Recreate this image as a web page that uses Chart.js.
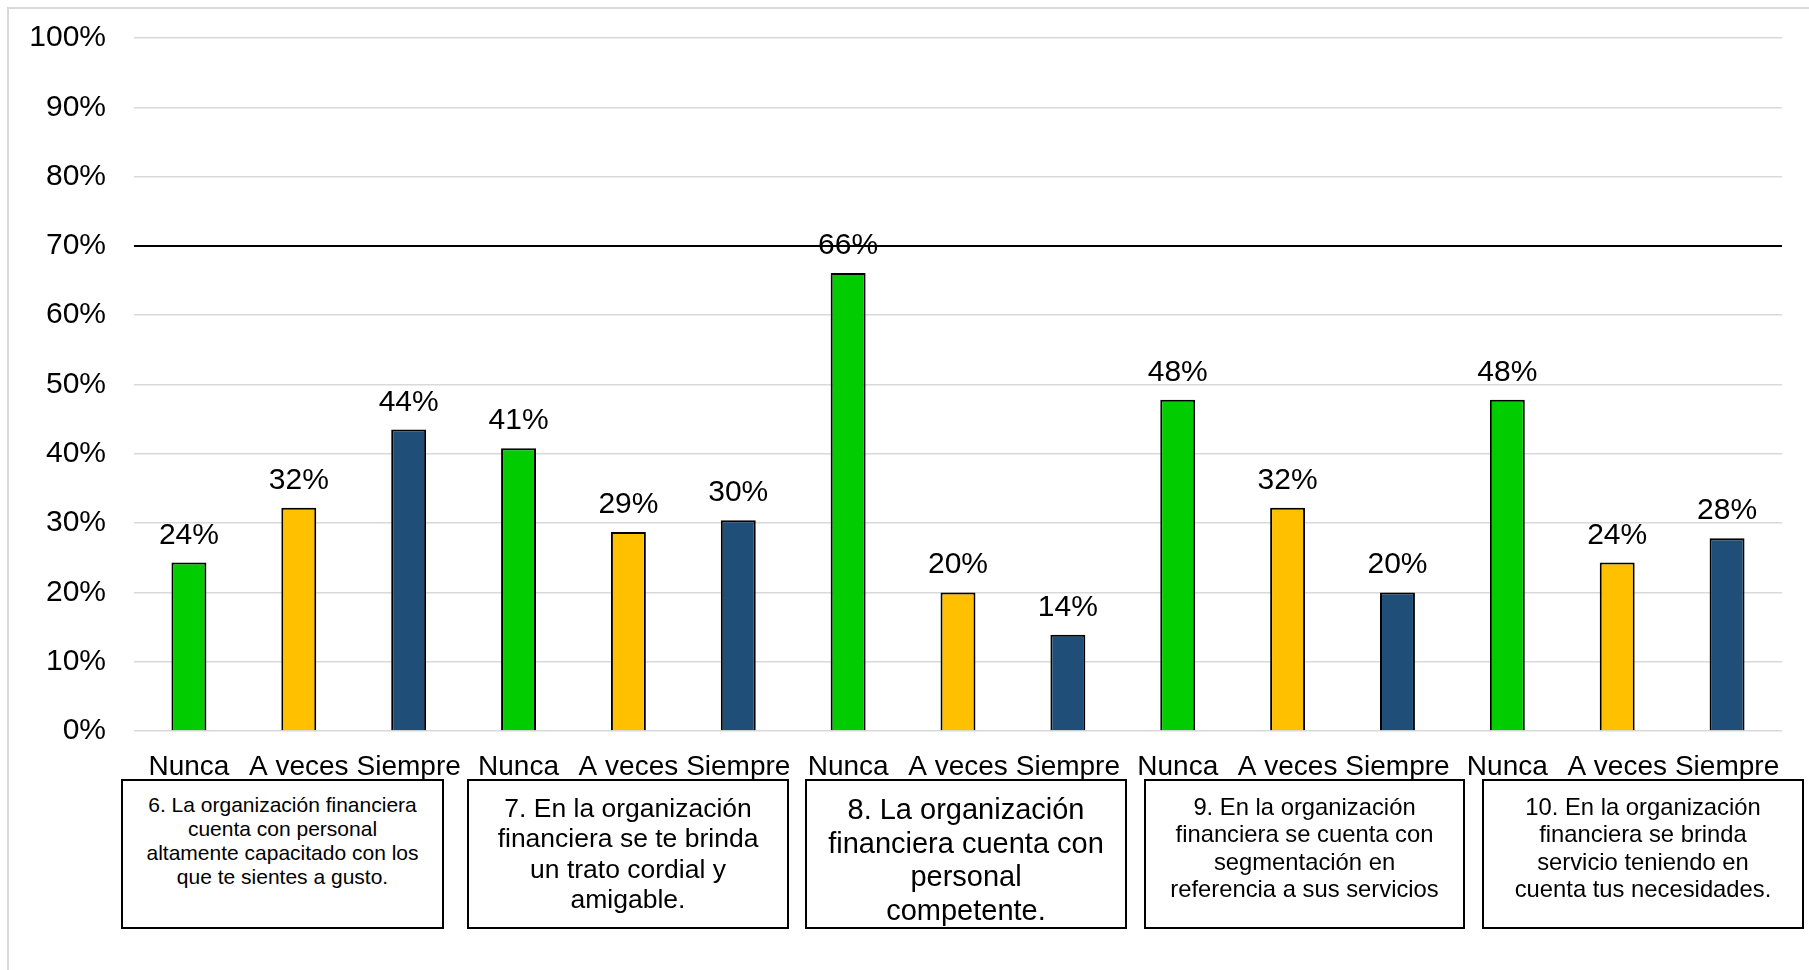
<!DOCTYPE html>
<html>
<head>
<meta charset="utf-8">
<script src="https://cdn.jsdelivr.net/npm/chart.js@4.4.1/dist/chart.umd.min.js"></script>
<style>
  body { margin:0; background:#fff; font-family:'Liberation Sans', Arial, sans-serif; }
  #wrap { position:relative; width:1809px; height:970px; overflow:hidden; }
  #frame { position:absolute; left:7px; top:7px; width:1900px; height:1000px; border-left:2px solid #d9d9d9; border-top:2px solid #d9d9d9; }
  canvas { position:absolute; left:0; top:0; }
  .q { position:absolute; top:779px; height:150px; box-sizing:border-box; border:2px solid #000; background:#fff;
       text-align:center; color:#000; padding-top:12px; }
</style>
</head>
<body>
<div id="wrap">
  <div id="frame"></div>
  <canvas id="chart" width="1809" height="970"></canvas>
</div>
<script>
const answers  = ['Nunca','A veces','Siempre'];
const groups   = ['6','7','8','9','10'];
const values   = [24.3, 32.2, 43.5, 40.8, 28.7, 30.4, 66.1, 20.0, 13.9, 47.8, 32.2, 20.0, 47.8, 24.3, 27.8];
const colors   = ['#00CC00', '#FFC000', '#1F4E79'];
const refLine  = 70;
const questions = [
  '6. La organización financiera<br>cuenta con personal<br>altamente capacitado con los<br>que te sientes a gusto.',
  '7. En la organización<br>financiera se te brinda<br>un trato cordial y<br>amigable.',
  '8. La organización<br>financiera cuenta con<br>personal<br>competente.',
  '9. En la organización<br>financiera se cuenta con<br>segmentación en<br>referencia a sus servicios',
  '10. En la organización<br>financiera se brinda<br>servicio teniendo en<br>cuenta tus necesidades.'
];
// box placement and text size per question
const boxLeft  = [121, 467, 805, 1144, 1482];
const boxWidth = [323, 322, 322, 321, 322];
const boxFont  = [21, 26.5, 29, 23.8, 23.8];
const boxLine  = [24, 30.4, 33.5, 27.3, 27.3];

const labels = groups.flatMap(() => answers);
const FONT = "'Liberation Sans', Arial, sans-serif";

const overlay = {
  id: 'overlay',
  afterDatasetsDraw(chart) {
    const { ctx, chartArea, scales } = chart;
    // black reference line at 70%
    const y = scales.y.getPixelForValue(refLine);
    ctx.save();
    ctx.strokeStyle = '#000';
    ctx.lineWidth = 2;
    ctx.beginPath();
    ctx.moveTo(chartArea.left, y);
    ctx.lineTo(chartArea.right, y);
    ctx.stroke();
    // value labels
    ctx.fillStyle = '#000';
    ctx.font = '30px ' + FONT;
    ctx.textAlign = 'center';
    ctx.textBaseline = 'alphabetic';
    chart.getDatasetMeta(0).data.forEach((bar, i) => {
      ctx.fillText(Math.round(values[i]) + '%', bar.x, bar.y - 19);
    });
    ctx.restore();
  }
};

new Chart(document.getElementById('chart'), {
  type: 'bar',
  data: {
    labels,
    datasets: [{
      data: values,
      backgroundColor: values.map((v, i) => colors[i % 3]),
      borderColor: '#000',
      borderWidth: 2,
      barPercentage: 1,
      categoryPercentage: 0.318
    }]
  },
  options: {
    responsive: false,
    animation: false,
    layout: { padding: { left: 0, right: 27, top: 38, bottom: 0 } },
    plugins: { legend: { display: false }, tooltip: { enabled: false } },
    scales: {
      x: {
        grid: { display: false },
        border: { display: false },
        ticks: { color: '#000', font: { family: FONT, size: 28 }, padding: 11, autoSkip: false, maxRotation: 0 },
        afterFit: s => { s.height = 239; }
      },
      y: {
        min: 0, max: 100,
        grid: { color: '#d9d9d9', lineWidth: 1.5, drawTicks: false },
        border: { display: false },
        ticks: { stepSize: 10, color: '#000', font: { family: FONT, size: 30 }, padding: 28, callback: v => v + '%' },
        afterFit: s => { s.width = 134; s.paddingTop = 0; s.paddingBottom = 0; }
      }
    }
  },
  plugins: [overlay]
});

const wrap = document.getElementById('wrap');
questions.forEach((q, i) => {
  const d = document.createElement('div');
  d.className = 'q';
  d.style.left = boxLeft[i] + 'px';
  d.style.width = boxWidth[i] + 'px';
  d.style.fontSize = boxFont[i] + 'px';
  d.style.lineHeight = boxLine[i] + 'px';
  d.innerHTML = q;
  wrap.appendChild(d);
});
</script>
</body>
</html>
